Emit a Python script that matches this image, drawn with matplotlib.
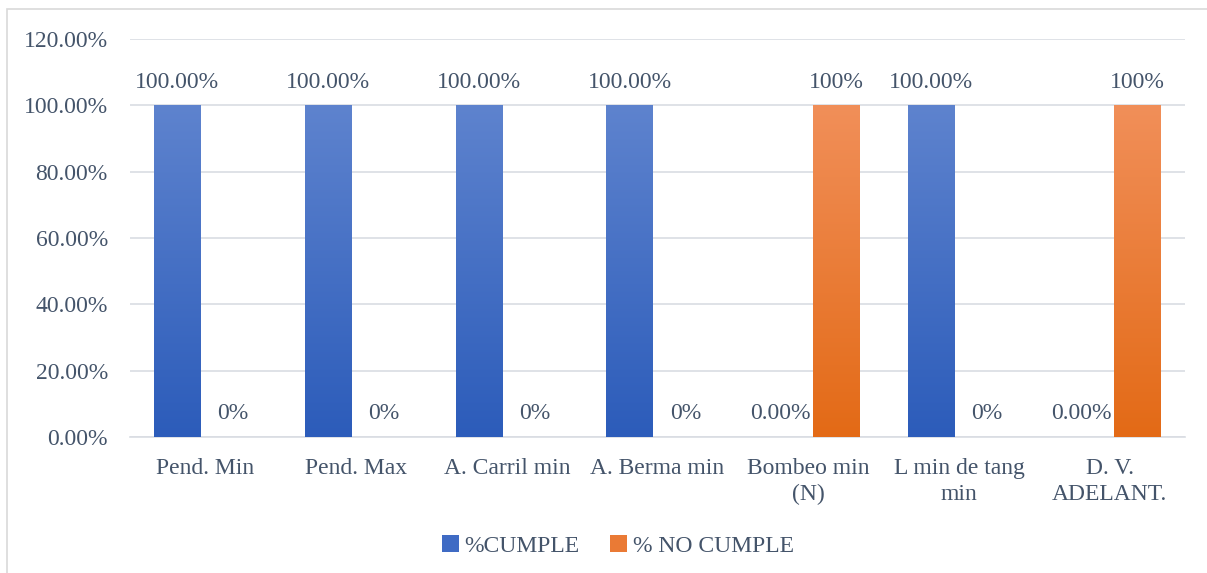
import numpy as np
import matplotlib
matplotlib.use("Agg")
import matplotlib.pyplot as plt
from matplotlib.colors import LinearSegmentedColormap
from matplotlib.patches import Rectangle, Patch

categories = ["Pend. Min", "Pend. Max", "A. Carril min", "A. Berma min",
              "Bombeo min\n(N)", "L min de tang\nmin", "D. V.\nADELANT."]
cumple = [1.0, 1.0, 1.0, 1.0, 0.0, 1.0, 0.0]
no_cumple = [0.0, 0.0, 0.0, 0.0, 1.0, 0.0, 1.0]
cumple_labels = ["100.00%", "100.00%", "100.00%", "100.00%", "0.00%", "100.00%", "0.00%"]
no_cumple_labels = ["0%", "0%", "0%", "0%", "100%", "0%", "100%"]
series_names = ["%CUMPLE", "% NO CUMPLE"]
yticks = [0.0, 0.2, 0.4, 0.6, 0.8, 1.0, 1.2]

text_color = "#44546A"
grid_color = "#D9DDE3"
blue_top, blue_bot = "#5E83CE", "#2C5CBA"
orange_top, orange_bot = "#F18F59", "#E36A16"

plt.rcParams["font.family"] = ["Liberation Serif", "DejaVu Serif"]
fs = 17

fig = plt.figure(figsize=(12.07, 5.73), dpi=100)
ax = fig.add_axes([0.1077, 0.2373, 0.9818 - 0.1077, 0.9319 - 0.2373])

# figure frame
fig.patches.append(Rectangle((0.006, -0.02), 1.1, 1.005, transform=fig.transFigure,
                             fill=False, edgecolor="#D9D9D9", linewidth=1.2))

x = np.arange(len(categories))
w = 0.31
off = 0.185

bars_c = ax.bar(x - off, cumple, w, color=blue_bot, zorder=2)
bars_n = ax.bar(x + off, no_cumple, w, color=orange_bot, zorder=2)

# vertical gradient fill inside each bar
grad = np.linspace(1, 0, 256).reshape(-1, 1)
for bars, top, bot in [(bars_c, blue_top, blue_bot), (bars_n, orange_top, orange_bot)]:
    cmap = LinearSegmentedColormap.from_list("g", [bot, top])
    for b in bars:
        h = b.get_height()
        if h <= 0:
            b.set_visible(False)
            continue
        x0 = b.get_x()
        ax.imshow(grad, cmap=cmap, vmin=0, vmax=1, aspect="auto",
                  extent=[x0, x0 + b.get_width(), 0, h], zorder=3,
                  interpolation="bicubic")
        b.set_facecolor("none")

for xi, v, lab in zip(x - off, cumple, cumple_labels):
    ax.text(xi, v + 0.07, lab, ha="center", va="center", fontsize=fs, color=text_color)
for xi, v, lab in zip(x + off, no_cumple, no_cumple_labels):
    ax.text(xi, v + 0.07, lab, ha="center", va="center", fontsize=fs, color=text_color)

ax.set_xlim(-0.5, len(categories) - 0.5)
ax.set_ylim(0, 1.2)
ax.set_yticks(yticks)
ax.set_yticklabels([f"{t*100:.2f}%" for t in yticks])
ax.set_xticks(x)
ax.set_xticklabels(categories, linespacing=1.3)
ax.tick_params(axis="y", length=0, pad=16, labelsize=fs, labelcolor=text_color)
ax.tick_params(axis="x", length=0, pad=15, labelsize=fs, labelcolor=text_color)
ax.grid(axis="y", color=grid_color, linewidth=1.2, zorder=0)
ax.set_axisbelow(True)
for s in ["top", "right", "left"]:
    ax.spines[s].set_visible(False)
ax.spines["bottom"].set_color(grid_color)
ax.spines["bottom"].set_linewidth(1.2)

handles = [Patch(facecolor="#3F6BC4"), Patch(facecolor="#EA7A35")]
fig.legend(handles, series_names, loc="center", bbox_to_anchor=(0.512, 0.047), ncol=2,
           frameon=False, fontsize=fs, labelcolor=text_color, handlelength=0.7,
           handleheight=0.7, handletextpad=0.25, columnspacing=1.3)

fig.savefig("out.png", dpi=100)
